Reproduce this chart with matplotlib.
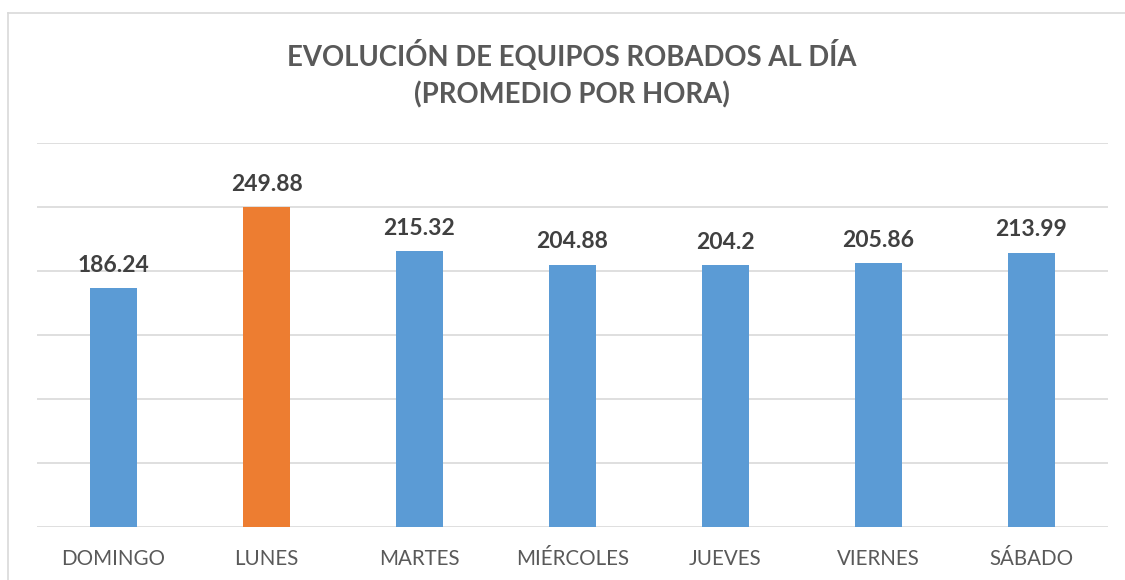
import matplotlib.pyplot as plt
from matplotlib.lines import Line2D

# datos
dias = ['DOMINGO', 'LUNES', 'MARTES', 'MIÉRCOLES', 'JUEVES', 'VIERNES', 'SÁBADO']
promedio = [186.24, 249.88, 215.32, 204.88, 204.2, 205.86, 213.99]
etiquetas = ['186.24', '249.88', '215.32', '204.88', '204.2', '205.86', '213.99']

azul = '#5B9BD5'
naranja = '#ED7D31'
gris_grid = '#D9D9D9'

plt.rcParams['font.family'] = ['Lato', 'DejaVu Sans']

fig = plt.figure(figsize=(11.25, 5.8), dpi=100)
ax = fig.add_axes([37 / 1125, 1 - 526.5 / 580, (1108 - 37) / 1125, (526.5 - 143) / 580])

max_val = max(promedio)
colores = [naranja if v == max_val else azul for v in promedio]
x = list(range(len(dias)))
ax.bar(x, promedio, width=0.31, color=colores, zorder=3)

for xi, v, txt in zip(x, promedio, etiquetas):
    ax.annotate(txt, (xi, v), xytext=(0, 9), textcoords='offset points',
                ha='center', va='bottom', fontsize=16.5, fontweight='bold',
                color='#404040')

ax.set_xlim(-0.5, len(dias) - 0.5)
ax.set_ylim(0, 300)
ax.set_yticks(range(0, 301, 50))
ax.yaxis.grid(True, color=gris_grid, lw=1.2, zorder=0)
ax.tick_params(axis='y', length=0, labelleft=False)
ax.tick_params(axis='x', length=0, pad=16, labelsize=14.8, labelcolor='#595959')
ax.set_xticks(x)
ax.set_xticklabels(dias)
for s in ax.spines.values():
    s.set_visible(False)

fig.text(572 / 1125, 1 - 55 / 580, 'EVOLUCIÓN DE EQUIPOS ROBADOS AL DÍA',
         ha='center', va='center', fontsize=19.8, fontweight='bold', color='#595959')
fig.text(572 / 1125, 1 - 95 / 580, '(PROMEDIO POR HORA)',
         ha='center', va='center', fontsize=19.8, fontweight='bold', color='#595959')

# borde del area del grafico (recortado a la derecha y abajo)
fig.add_artist(Line2D([8 / 1125, 8 / 1125], [0, 1 - 12.5 / 580],
                      transform=fig.transFigure, color=gris_grid, lw=1.2))
fig.add_artist(Line2D([8 / 1125, 1], [1 - 12.5 / 580, 1 - 12.5 / 580],
                      transform=fig.transFigure, color=gris_grid, lw=1.2))

fig.savefig('out.png', dpi=100)
